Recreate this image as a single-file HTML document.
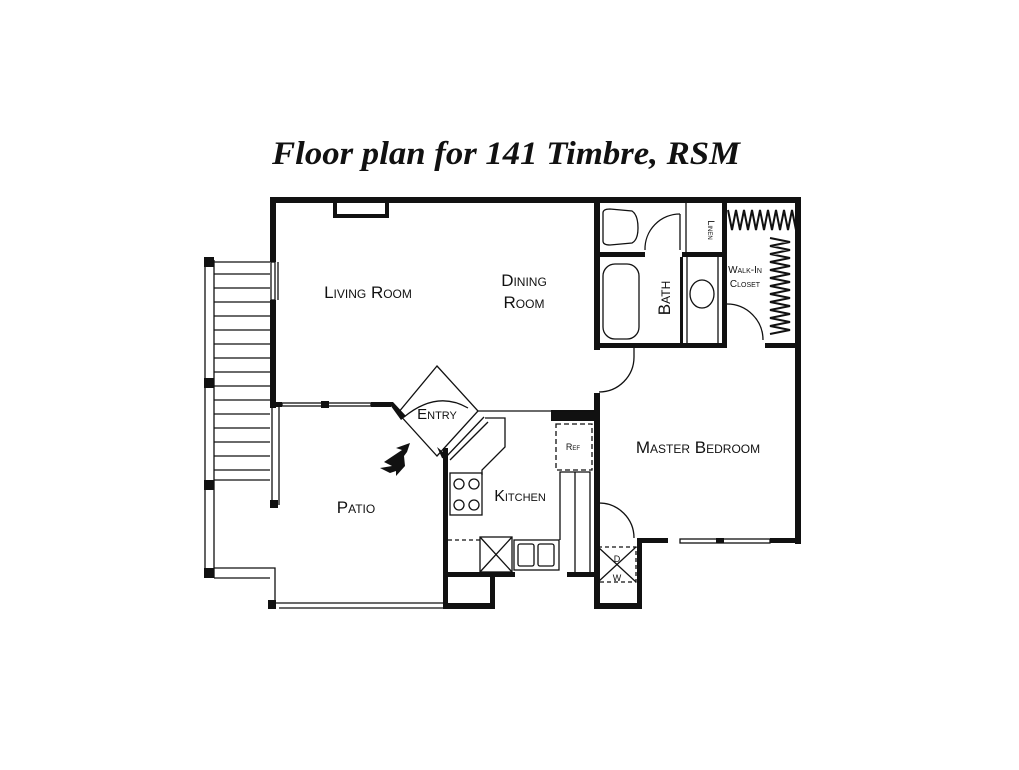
<!DOCTYPE html>
<html><head><meta charset="utf-8"><style>
html,body{margin:0;padding:0;background:#fff;}
svg{display:block;}
.t{font-family:"Liberation Sans",sans-serif;font-variant:small-caps;fill:#111;}
</style></head><body>
<svg width="1019" height="770" viewBox="0 0 1019 770" xmlns="http://www.w3.org/2000/svg">
<text x="506" y="164" text-anchor="middle" font-family="Liberation Serif,serif" font-weight="bold" font-style="italic" font-size="33" fill="#111" textLength="468" lengthAdjust="spacingAndGlyphs">Floor plan for 141 Timbre, RSM</text>
<g fill="#111">
<rect x="270" y="197" width="531" height="6"/>
<rect x="270" y="197" width="6" height="65"/>
<rect x="270" y="300" width="6" height="108"/>
<rect x="795" y="197" width="6" height="347"/>
<rect x="333" y="203" width="4" height="15"/><rect x="333" y="214" width="56" height="4"/><rect x="385" y="203" width="4" height="15"/>
<rect x="594" y="197" width="6" height="153"/>
<rect x="594" y="343" width="133" height="5"/>
<rect x="722" y="197" width="5" height="151"/>
<rect x="765" y="343" width="36" height="5"/>
<rect x="599" y="252" width="46" height="5"/>
<rect x="682" y="252" width="40" height="5"/>
<rect x="680" y="257" width="3" height="88"/>
<rect x="594" y="393" width="6" height="216"/>
<rect x="637" y="538" width="31" height="5"/>
<rect x="770" y="538" width="31" height="5"/>
<rect x="716" y="538" width="8" height="5"/>
<rect x="637" y="538" width="5" height="71"/>
<rect x="594" y="603" width="48" height="6"/>
<rect x="551" y="410" width="44" height="11"/>
<rect x="443" y="448" width="5" height="161"/>
<rect x="443" y="572" width="72" height="5"/>
<rect x="567" y="572" width="28" height="5"/>
<rect x="443" y="603" width="52" height="6"/>
<rect x="490" y="572" width="5" height="37"/>
<!-- living bottom wall with windows -->
<rect x="270" y="402" width="12" height="5"/>
<rect x="321" y="401" width="8" height="7"/>
<rect x="371" y="402" width="20" height="5"/>
<polygon points="388,402 393,402 406,416 401,420"/>
<polygon points="437,447 443,452 448,460 442,458"/>
<rect x="204" y="257" width="10" height="10"/>
<rect x="204" y="378" width="10" height="10"/>
<rect x="204" y="480" width="10" height="10"/>
<rect x="204" y="568" width="10" height="10"/>
<rect x="268" y="600" width="8" height="9"/>
<rect x="270" y="500" width="8" height="8"/>
</g>
<g fill="none" stroke="#111" stroke-width="1.3">
<rect x="282" y="403" width="89" height="3"/>
<rect x="271" y="262" width="4" height="38"/>
<line x1="278" y1="262" x2="278" y2="300"/>
<rect x="680" y="539" width="90" height="4"/>
<line x1="205" y1="260" x2="205" y2="578"/><line x1="214" y1="260" x2="214" y2="578"/>
<line x1="214" y1="262" x2="270" y2="262"/>
<line x1="214" y1="274" x2="270" y2="274"/><line x1="214" y1="288" x2="270" y2="288"/>
<line x1="214" y1="302" x2="270" y2="302"/><line x1="214" y1="316" x2="270" y2="316"/>
<line x1="214" y1="330" x2="270" y2="330"/><line x1="214" y1="344" x2="270" y2="344"/>
<line x1="214" y1="358" x2="270" y2="358"/><line x1="214" y1="372" x2="270" y2="372"/>
<line x1="214" y1="386" x2="270" y2="386"/><line x1="214" y1="400" x2="270" y2="400"/>
<line x1="214" y1="414" x2="270" y2="414"/><line x1="214" y1="428" x2="270" y2="428"/>
<line x1="214" y1="442" x2="270" y2="442"/><line x1="214" y1="456" x2="270" y2="456"/>
<line x1="214" y1="470" x2="270" y2="470"/><line x1="214" y1="480" x2="270" y2="480"/>
<line x1="272" y1="407" x2="272" y2="505"/><line x1="279" y1="407" x2="279" y2="505"/>
<polyline points="214,568 275,568 275,603 443,603"/>
<line x1="214" y1="578" x2="270" y2="578"/>
<line x1="279" y1="608" x2="443" y2="608"/>
<polygon points="437,366 478,411 437,456 398,413"/>
<path d="M 404,417 Q 437,390 468,408"/>
<line x1="445" y1="458" x2="484" y2="417"/>
<polyline points="478,411 505,411 595,411"/>
<polyline points="485,418 505,418 505,447 482,470 482,475"/>
<line x1="450" y1="460" x2="488" y2="422"/>
<rect x="450" y="473" width="32" height="42"/>
<circle cx="459" cy="484" r="5"/><circle cx="474" cy="484" r="5"/>
<circle cx="459" cy="505" r="5"/><circle cx="474" cy="505" r="5"/>
<line x1="448" y1="540" x2="480" y2="540" stroke-dasharray="4,3"/>
<rect x="480" y="537" width="32" height="35"/>
<line x1="480" y1="537" x2="512" y2="572"/><line x1="512" y1="537" x2="480" y2="572"/>
<rect x="514" y="540" width="45" height="30"/>
<rect x="518" y="544" width="16" height="22" rx="2"/><rect x="538" y="544" width="16" height="22" rx="2"/>
<polyline points="560,540 560,472 590,472 590,572"/>
<line x1="575" y1="472" x2="575" y2="572"/>
<rect x="556" y="424" width="36" height="46" stroke-dasharray="5,3"/>
<path d="M 603,213 Q 603,209 610,209 L 632,211 Q 638,215 638,228 Q 638,240 632,243 L 610,245 Q 603,245 603,241 Z"/>
<rect x="603" y="264" width="36" height="75" rx="12"/>
<ellipse cx="702" cy="294" rx="12" ry="14"/>
<line x1="687" y1="257" x2="687" y2="343"/><line x1="718" y1="257" x2="718" y2="343"/>
<line x1="686" y1="203" x2="686" y2="252"/>
<path d="M 645,250 A 35,35 0 0 1 680,214"/><line x1="680" y1="214" x2="680" y2="250"/>
<path d="M 727,304 A 36,36 0 0 1 763,340"/>
<path d="M 599,392 A 35,35 0 0 0 634,357"/><line x1="634" y1="348" x2="634" y2="357"/>
<path d="M 599,503 A 35,35 0 0 1 634,538"/>
<rect x="598" y="547" width="38" height="35" stroke-dasharray="4,3"/>
<line x1="598" y1="547" x2="636" y2="582"/><line x1="636" y1="547" x2="598" y2="582"/>
<path d="M 728,210 l4,20 l4,-20 l4,20 l4,-20 l4,20 l4,-20 l4,20 l4,-20 l4,20 l4,-20 l4,20 l4,-20 l4,20 l4,-20 l4,20 l4,-20 l4,20" stroke-width="2"/>
<path d="M 770,238 l20,4 l-20,4 l20,4 l-20,4 l20,4 l-20,4 l20,4 l-20,4 l20,4 l-20,4 l20,4 l-20,4 l20,4 l-20,4 l20,4 l-20,4 l20,4 l-20,4 l20,4 l-20,4 l20,4 l-20,4 l20,4 l-20,4" stroke-width="2"/>
</g>
<g fill="#111"><polygon points="410,443 396,448 402,450 384,462 392,466 380,468 390,473 396,471 396,476 405,466 404,456 407,452"/></g>
<g class="t">
<text x="368" y="298" font-size="17" text-anchor="middle">Living Room</text>
<text x="524" y="286" font-size="17" text-anchor="middle">Dining</text>
<text x="524" y="308" font-size="17" text-anchor="middle">Room</text>
<text x="437" y="419" font-size="15" text-anchor="middle">Entry</text>
<text x="520" y="501" font-size="16" text-anchor="middle">Kitchen</text>
<text x="356" y="513" font-size="17" text-anchor="middle">Patio</text>
<text x="698" y="453" font-size="17" text-anchor="middle">Master Bedroom</text>
<text x="573" y="450" font-size="9" text-anchor="middle">Ref</text>
<text x="745" y="273" font-size="10" text-anchor="middle">Walk-In</text>
<text x="745" y="287" font-size="10" text-anchor="middle">Closet</text>
<text x="617" y="562" font-size="9" text-anchor="middle">D</text>
<text x="617" y="581" font-size="9" text-anchor="middle">W</text>
<text transform="translate(670,298) rotate(-90)" font-size="17" text-anchor="middle">Bath</text>
<text transform="translate(708,230) rotate(90)" font-size="9" text-anchor="middle">Linen</text>
</g>
</svg>
</body></html>
